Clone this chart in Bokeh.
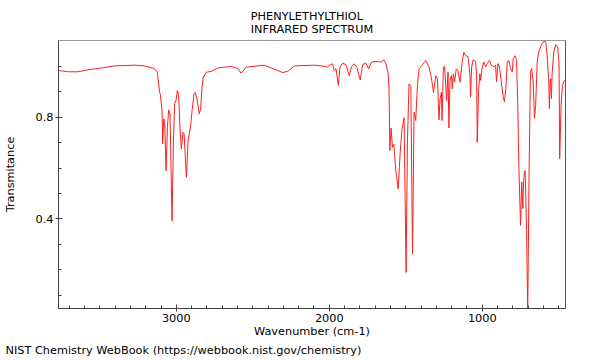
from bokeh.plotting import figure
from bokeh.models import Range1d, FixedTicker, LinearAxis, Title
from bokeh.embed import file_html
from bokeh.resources import INLINE

# ---- data ----
wavenumber = [
    3770, 3706, 3641, 3575, 3489, 3402, 3272, 3206, 3141, 3124,
    3109, 3105, 3093, 3089, 3082, 3076, 3067, 3058, 3050, 3041,
    3028, 3019, 3011, 3002, 2993, 2985, 2976, 2967, 2956, 2949,
    2934, 2923, 2906, 2897, 2884, 2876, 2863, 2850, 2841, 2832,
    2824, 2804, 2771, 2728, 2641, 2597, 2576, 2543, 2426, 2337,
    2304, 2271, 2228, 2098, 2022, 2011, 1994, 1978, 1968, 1956,
    1941, 1930, 1913, 1891, 1870, 1854, 1837, 1820, 1798, 1782,
    1761, 1743, 1724, 1696, 1663, 1642, 1629, 1615, 1609, 1604,
    1596, 1587, 1578, 1565, 1550, 1537, 1526, 1511, 1498, 1489,
    1479, 1467, 1456, 1446, 1435, 1424, 1413, 1391, 1370, 1348,
    1333, 1319, 1303, 1293, 1283, 1276, 1267, 1263, 1254, 1246,
    1233, 1224, 1218, 1211, 1202, 1196, 1189, 1181, 1170, 1159,
    1146, 1130, 1120, 1109, 1094, 1081, 1076, 1070, 1059, 1044,
    1037, 1033, 1024, 1016, 1011, 1000, 990, 978, 967, 952,
    941, 924, 913, 907, 898, 887, 876, 863, 855, 846,
    837, 827, 815, 804, 798, 785, 776, 768, 761, 750,
    742, 735, 729, 720, 711, 703, 694, 685, 677, 667,
    659, 651, 641, 631, 615, 598, 585, 576, 570, 566,
    561, 557, 553, 548, 544, 533, 520, 507, 498, 494,
    485, 476, 463, 456,
]
transmittance = [
    0.984, 0.979, 0.979, 0.987, 0.994, 1.002, 1.005, 1.002, 0.991, 0.977,
    0.898, 0.892, 0.826, 0.695, 0.794, 0.787, 0.590, 0.761, 0.829, 0.813,
    0.393, 0.695, 0.853, 0.866, 0.905, 0.892, 0.761, 0.676, 0.741, 0.735,
    0.564, 0.708, 0.767, 0.826, 0.892, 0.898, 0.866, 0.813, 0.833, 0.918,
    0.957, 0.977, 0.981, 0.994, 1.000, 0.991, 0.973, 0.997, 1.005, 0.984,
    0.976, 0.981, 1.002, 1.005, 1.000, 0.997, 1.007, 1.010, 0.984, 0.991,
    0.925, 0.997, 1.013, 1.007, 0.964, 1.000, 1.010, 0.997, 0.947, 1.007,
    1.013, 0.991, 1.017, 1.020, 1.017, 1.026, 1.010, 0.971, 0.905, 0.669,
    0.758, 0.682, 0.693, 0.590, 0.518, 0.656, 0.748, 0.798, 0.190, 0.708,
    0.931, 0.925, 0.262, 0.820, 0.787, 0.925, 0.991, 1.007, 1.023, 0.997,
    0.957, 0.898, 0.964, 0.951, 0.790, 0.872, 0.898, 0.787, 0.997, 1.000,
    0.866, 0.977, 0.758, 0.944, 0.964, 0.912, 0.971, 0.938, 0.991, 0.984,
    0.938, 1.023, 1.056, 1.043, 1.039, 0.971, 0.879, 0.997, 1.026, 1.020,
    0.971, 0.702, 0.905, 0.971, 0.945, 0.998, 1.018, 0.998, 1.011, 1.024,
    1.005, 0.998, 1.005, 0.939, 1.011, 0.998, 0.939, 0.880, 0.861, 0.913,
    1.018, 1.024, 0.992, 0.979, 1.031, 1.042, 1.024, 0.847, 0.611, 0.375,
    0.546, 0.441, 0.559, 0.591, 0.375, 0.030, 0.585, 0.979, 0.992, 0.939,
    0.795, 0.847, 1.018, 1.057, 1.083, 1.099, 1.097, 1.044, 0.985, 0.952,
    0.834, 0.939, 0.952, 0.874, 0.965, 1.057, 1.086, 1.077, 1.005, 0.637,
    0.847, 0.926, 0.946, 0.946,
]
x_major_ticks = [1000, 2000, 3000]
x_minor_ticks = [500, 600, 700, 800, 900, 1100, 1200, 1300, 1400, 1500, 1600,
                 1700, 1800, 1900, 2100, 2200, 2300, 2400, 2500, 2600, 2700,
                 2800, 2900, 3100, 3200, 3300, 3400, 3500, 3600, 3700]
y_major_ticks = [0.4, 0.8]
y_minor_ticks = [0.1, 0.2, 0.3, 0.5, 0.6, 0.7, 0.9, 1.0]

title_text = "PHENYLETHYLTHIOL\nINFRARED SPECTRUM"
x_label = "Wavenumber (cm-1)"
y_label = "Transmitance"
footer_text = "NIST Chemistry WebBook (https://webbook.nist.gov/chemistry)"

FONT = "DejaVu Sans"
FS = "11.3px"

p = figure(width=600, height=360, output_backend="svg", toolbar_location=None,
           x_range=Range1d(3770, 456), y_range=Range1d(0.048, 1.102),
           min_border_left=57, min_border_right=35, min_border_top=40,
           min_border_bottom=52, x_axis_label=x_label, y_axis_label=y_label)

p.title.text = title_text
p.title.align = "center"
p.title.text_font = FONT
p.title.text_font_size = FS
p.title.text_font_style = "normal"
p.title.text_color = "black"

p.grid.visible = False
p.outline_line_color = "#9a9a9a"
p.background_fill_color = "white"
p.border_fill_color = "white"

p.line(wavenumber, transmittance, line_color="#ff2020", line_width=1)

for ax in (p.xaxis[0], p.yaxis[0]):
    ax.axis_line_color = "#444444"
    ax.major_tick_line_color = "#444444"
    ax.minor_tick_line_color = "#444444"
    ax.major_tick_in = 4
    ax.major_tick_out = 3
    ax.minor_tick_in = 3
    ax.minor_tick_out = 0
    ax.major_label_standoff = 2
    ax.major_label_text_font = FONT
    ax.major_label_text_font_size = FS
    ax.major_label_text_color = "black"
    ax.axis_label_text_font = FONT
    ax.axis_label_text_font_size = FS
    ax.axis_label_text_font_style = "normal"
    ax.axis_label_text_color = "black"

p.xaxis[0].ticker = FixedTicker(ticks=x_major_ticks, minor_ticks=x_minor_ticks)
p.yaxis[0].ticker = FixedTicker(ticks=y_major_ticks, minor_ticks=y_minor_ticks)
p.xaxis[0].axis_label_standoff = 0
p.yaxis[0].axis_label_standoff = 16

right = LinearAxis(ticker=FixedTicker(ticks=[]), axis_line_color="#555555",
                   major_tick_in=0, major_tick_out=0, minor_tick_in=0,
                   minor_tick_out=0, major_label_standoff=0)
p.add_layout(right, "right")

footer = Title(text=footer_text, align="left", offset=-53, standoff=3,
               text_font=FONT, text_font_size=FS, text_font_style="normal",
               text_color="black")
p.add_layout(footer, "below")

open("out.html", "w").write(file_html(p, INLINE))
